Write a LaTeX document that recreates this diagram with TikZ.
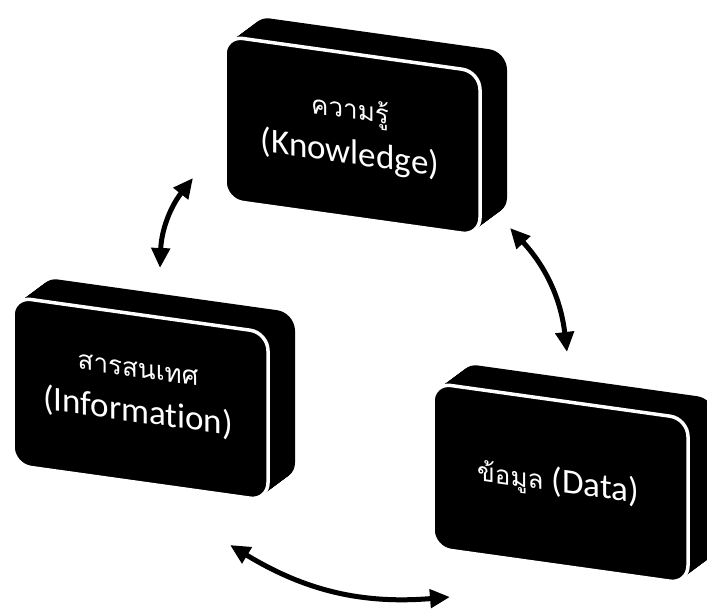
\documentclass[tikz,border=0pt]{standalone}
\usepackage{fontspec}
\setmainfont{Carlito}[Ligatures={NoCommon,NoRare}]
\newfontfamily\thaifont[Script=Thai]{Loma}
\usetikzlibrary{arrows.meta}

% One raised block: front face at (#1,#2), height #3, label node #4
\newcommand\raisedblock[4]{%
  \foreach \t in {1,...,24}{%
    \begin{scope}[shift={(#1+\t*27/24,#2-\t*20/24)}, yslant=-0.14]
      \fill[black, rounded corners=18pt] (0,0) rectangle (255,#3);
    \end{scope}
  }%
  \begin{scope}[shift={(#1,#2)}, yslant=-0.14]
    \filldraw[fill=black, draw=white, line width=3.5pt, rounded corners=18pt]
      (0,0) rectangle (255,#3);
    #4
  \end{scope}%
}

\tikzset{
  blocktext/.style={text=white, align=center, transform shape, inner sep=0pt,
                    font=\fontsize{35}{40}\selectfont},
  twoway/.style={line width=5pt, {Triangle[length=20pt,width=18pt]}-{Triangle[length=20pt,width=18pt]}}
}
\newcommand\thaitext[1]{{\thaifont\fontsize{26}{30}\selectfont #1}}

\begin{document}
\begin{tikzpicture}[x=1pt,y=-1pt]
\useasboundingbox (0,0) rectangle (707,610);

% Knowledge block
\raisedblock{225}{36}{164}{%
  \node[blocktext] (know) at (125,80) {\thaitext{ความรู้}\\[5pt](Knowledge)};}

% Information block
\raisedblock{13}{297}{168}{%
  \node[blocktext] (info) at (125,80) {\thaitext{สารสนเทศ}\\[5pt](Information)};}

% Data block
\raisedblock{433}{383}{165}{%
  \node[blocktext] (data) at (125,82) {\thaitext{ข้อมูล} (Data)};}

% arrow end points beside the blocks
\coordinate (kl) at (193,178);
\coordinate (il) at (160,268);
\coordinate (kr) at (510,228);
\coordinate (dr) at (567,352);
\coordinate (ib) at (230,545);
\coordinate (db) at (450,597);

\draw[twoway] (kl) to[bend right=18] (il);
\draw[twoway] (kr) to[bend left=18] (dr);
\draw[twoway] (ib) to[bend right=18] (db);
\end{tikzpicture}
\end{document}
